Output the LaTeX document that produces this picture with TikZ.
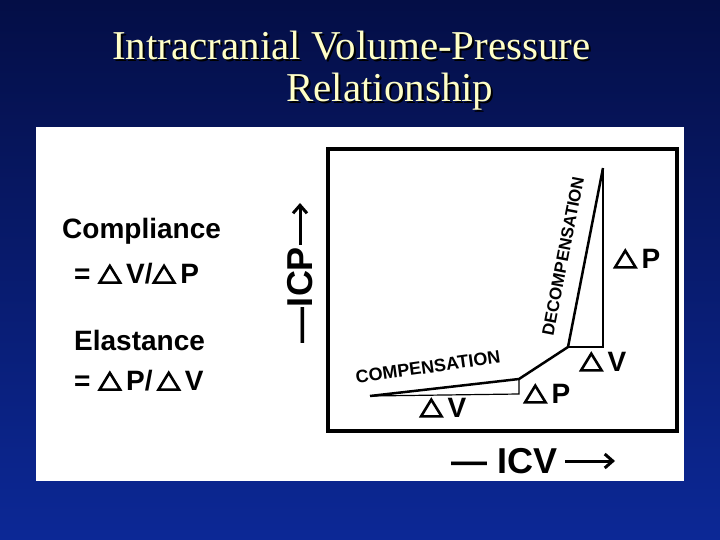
\documentclass[tikz,border=0pt]{standalone}
\usetikzlibrary{arrows.meta}
\usepackage{fontspec}
\setmainfont{Liberation Serif}
\newfontfamily\hv{Liberation Sans}
\newcommand\dtri{\tikz[x=1pt,y=1pt,baseline=0pt]\draw[line width=2.6pt,line join=miter] (1.5,1.3)--(22,1.3)--(11.7,18)--cycle;\,}
\begin{document}
\begin{tikzpicture}[x=1pt,y=-1pt,
  lab/.style={font=\hv\bfseries\fontsize{28}{30}\selectfont,inner sep=0pt},
  ttl/.style={font=\fontsize{41}{43}\selectfont,text={rgb,255:red,255;green,255;blue,200},inner sep=0pt},
  shd/.style={font=\fontsize{41}{43}\selectfont,text=black,inner sep=0pt},
  arr/.style={line width=3pt,-{Straight Barb[length=8pt,width=14pt]}}]
\shade[top color={rgb,255:red,4;green,14;blue,70},bottom color={rgb,255:red,12;green,40;blue,150}] (0,0) rectangle (720,540);
\useasboundingbox (0,0) rectangle (720,540);
\node[shd,anchor=west] (t1s) at (114,48) {Intracranial Volume-Pressure};
\node[ttl,anchor=west] (t1) at (112,46) {Intracranial Volume-Pressure};
\node[shd,anchor=west] (t2s) at (288,94) {Relationship};
\node[ttl,anchor=west] (t2) at (286,92) {Relationship};
\fill[white] (36,127) rectangle (684,481);
\draw[line width=3.5pt] (328,149) rectangle (677,431);
\draw[line width=2.5pt] (370,396) -- (519,379) -- (568,347) -- (603,168);
\draw[line width=1.2pt] (370,396) -- (519,394) -- (519,379);
\draw[line width=1.2pt] (568,347) -- (603,347) -- (603,168);
\node[lab] (dv1) at (443,408) {\dtri V};
\node[lab] (dp1) at (547,394) {\dtri P};
\node[lab] (dv2) at (603,362) {\dtri V};
\node[lab] (dp2) at (637,259) {\dtri P};
\node[font=\hv\bfseries\fontsize{18}{19}\selectfont,rotate=8,inner sep=0pt] (comp) at (428,367) {COMPENSATION};
\node[font=\hv\bfseries\fontsize{17}{18}\selectfont,rotate=79,inner sep=0pt] (dec) at (563,256) {DECOMPENSATION};
\node[lab,anchor=west] (c1) at (62,231) {Compliance};
\node[lab,anchor=west] (c2) at (74,274) {=\ \dtri V/\dtri P};
\node[lab,anchor=west] (e1) at (74,340) {Elastance};
\node[lab,anchor=west] (e2) at (74,381) {=\ \dtri P/\,\dtri V};
\node[font=\hv\bfseries\fontsize{36}{38}\selectfont,rotate=90,inner sep=0pt] (icp) at (300,295) {—ICP};
\coordinate (icpa) at (300,245);
\coordinate (icpb) at (300,203);
\draw[arr] (icpa) -- (icpb);
\node[font=\hv\bfseries\fontsize{36}{38}\selectfont,inner sep=0pt] (icv) at (505,461) {— ICV};
\coordinate (icva) at (565,461);
\coordinate (icvb) at (615,461);
\draw[arr] (icva) -- (icvb);
\end{tikzpicture}
\end{document}
